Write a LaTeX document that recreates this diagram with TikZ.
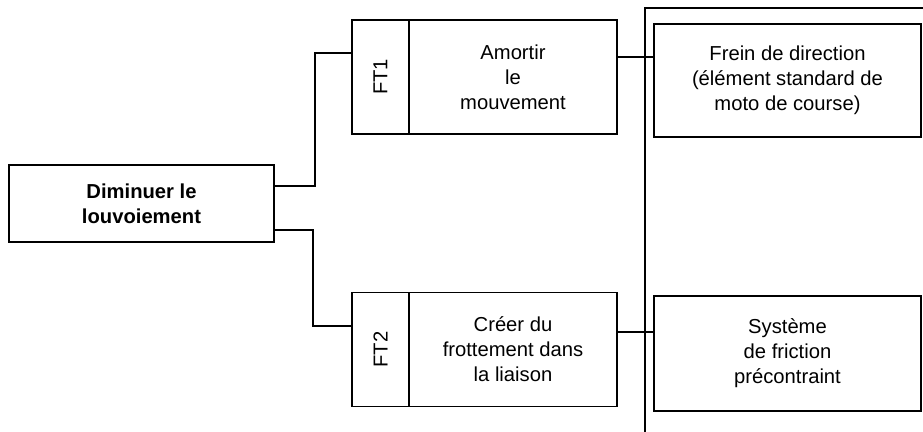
\documentclass[tikz,border=0pt]{standalone}
\usepackage{graphicx}
\usepackage{fontspec}
\setmainfont{Liberation Sans}
\usetikzlibrary{positioning}

\tikzset{
  boite/.style={draw, rectangle, line width=0.9pt, align=center, inner sep=0pt,
    outer sep=0pt, font=\fontsize{11.5}{14.2}\selectfont},
  trait/.style={line width=0.9pt},
}

\begin{document}
\begin{tikzpicture}[x=0.2mm,y=0.2mm]
  \useasboundingbox (0,0) rectangle (923,432);

  % Fonction de service
  \node[boite, minimum width=53mm, minimum height=15.4mm,
    font=\fontsize{11.5}{14.2}\selectfont\bfseries] (dim) at (141.5,228.5)
    {Diminuer le\\louvoiement};

  % Fonctions techniques
  \node[boite, minimum width=11.4mm, minimum height=22.8mm] (ft1) at (380.5,355) {\rotatebox{90}{FT1}};
  \node[boite, minimum width=41.6mm, minimum height=22.8mm, right=0pt of ft1] (amortir) {Amortir\\le\\mouvement};

  \node[boite, minimum width=11.4mm, minimum height=22.8mm] (ft2) at (380.5,82.5) {\rotatebox{90}{FT2}};
  \node[boite, minimum width=41.6mm, minimum height=22.8mm, right=0pt of ft2] (creer) {Créer du\\frottement dans\\la liaison};

  % Solutions
  \node[boite, minimum width=53.4mm, minimum height=22.6mm] (frein) at (787.5,351.5)
    {Frein de direction\\(élément standard de\\moto de course)};
  \node[boite, minimum width=53.4mm, minimum height=23mm] (friction) at (787.5,78.5)
    {Système\\de friction\\précontraint};

  % Cadre des solutions
  \draw[trait] (645,0) |- (923,424);

  % Liaisons
  \draw[trait] ([yshift=3.5mm]dim.east) -- ++(41,0) |- ([yshift=4.8mm]ft1.west);
  \draw[trait] ([yshift=-5.3mm]dim.east) -- ++(39,0) |- ([yshift=4.7mm]ft2.west);
  \draw[trait] ([yshift=4mm]amortir.east) -- ([yshift=4mm]amortir.east -| frein.west);
  \draw[trait] ([yshift=3.5mm]creer.east) -- ([yshift=3.5mm]creer.east -| friction.west);
\end{tikzpicture}
\end{document}
